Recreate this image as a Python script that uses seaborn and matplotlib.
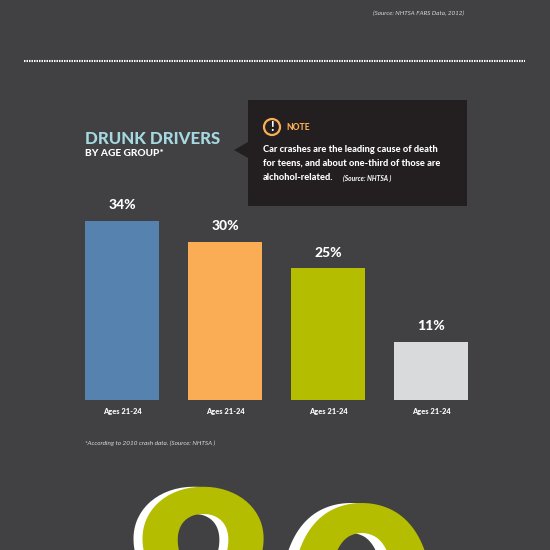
import matplotlib
matplotlib.use('Agg')
import matplotlib.pyplot as plt
import pandas as pd
import seaborn as sns
from matplotlib.patches import Circle, Polygon, Rectangle

groups = ['a', 'b', 'c', 'd']
age_labels = ['Ages 21-24', 'Ages 21-24', 'Ages 21-24', 'Ages 21-24']
pct = [34, 30, 25, 11]
bar_colors = ['#5582AE', '#FBAD56', '#B5BD00', '#D9DADC']

BG = '#414042'
BOX = '#231F20'
ORANGE = '#FBAD56'
GREEN = '#B5BD00'
PW = 550

sns.set_theme(style='white')
plt.rcParams['font.family'] = ['Lato', 'DejaVu Sans']

df = pd.DataFrame({'group': groups, 'pct': pct})

fig = plt.figure(figsize=(5.5, 5.5), dpi=100, facecolor=BG)

# page furniture, in pixel coords
bg = fig.add_axes([0, 0, 1, 1])
bg.set_xlim(0, PW)
bg.set_ylim(PW, 0)
bg.axis('off')

bg.text(464, 13, '(Source: NHTSA FARS Data, 2012)', color='#D9DADC', fontsize=4.5,
        style='italic', ha='right', va='center')
bg.plot([24, 525], [61, 61], color='white', lw=1.5, ls=(0, (0.7, 0.5)))

bg.text(85, 138.5, 'DRUNK DRIVERS', color='#A5D8E0', fontsize=12.2, weight='black',
        va='center')
bg.text(85, 154, 'BY AGE GROUP*', color='white', fontsize=7.3, weight='black',
        va='center')

# note box
bg.add_patch(Rectangle((248, 100), 219, 106, color=BOX, lw=0))
bg.add_patch(Polygon([[234, 150], [248, 142], [248, 158]], color=BOX, lw=0))
bg.add_patch(Circle((272, 127), 8, fc='none', ec=ORANGE, lw=1.6))
bg.text(272, 127, '!', color='white', fontsize=9, weight='black', ha='center',
        va='center')
bg.text(286, 128, 'NOTE', color=ORANGE, fontsize=6.2, weight='black', va='center')
note_lines = ['Car crashes are the leading cause of death',
              'for teens, and about one-third of those are',
              'alchohol-related.']
for i, line in enumerate(note_lines):
    bg.text(263, 149 + i * 14.5, line, color='white', fontsize=6.7, weight='black',
            va='center')
bg.text(343, 178, '(Source: NHTSA )', color='white', fontsize=4.8, weight='bold',
        style='italic', va='center')

bg.text(85, 443, '*According to 2010 crash data. (Source: NHTSA )', color='#D9DADC',
        fontsize=4.6, style='italic', va='center')

# big cropped number at the bottom
bg.text(118, 681, '8', color='white', fontsize=189, weight='black', va='baseline')
bg.text(127, 681, '8', color=GREEN, fontsize=189, weight='black', va='baseline')
bg.text(274, 697, '0', color='white', fontsize=189, weight='black', va='baseline')
bg.text(285, 697, '0', color=GREEN, fontsize=189, weight='black', va='baseline')

# the bars
ax = fig.add_axes([70.5 / PW, 150 / PW, 412 / PW, 210 / PW])
ax.patch.set_alpha(0)
sns.barplot(data=df, x='group', y='pct', hue='group', palette=bar_colors,
            width=0.718, saturation=1, legend=False, linewidth=0, ax=ax)
ax.set_xlim(-0.5, 3.5)
ax.set_ylim(0, 39.85)
ax.set_xlabel('')
ax.set_ylabel('')
ax.set_yticks([])
ax.set_xticks(range(len(age_labels)))
ax.set_xticklabels(age_labels, color='white', fontsize=5.4, weight='black')
ax.tick_params(axis='x', length=0, pad=6)
sns.despine(ax=ax, left=True, bottom=True)
for c in ax.containers:
    ax.bar_label(c, fmt='%g%%', color='white', fontsize=10, weight='black', padding=7)

fig.savefig('out.png', dpi=100, facecolor=BG)
